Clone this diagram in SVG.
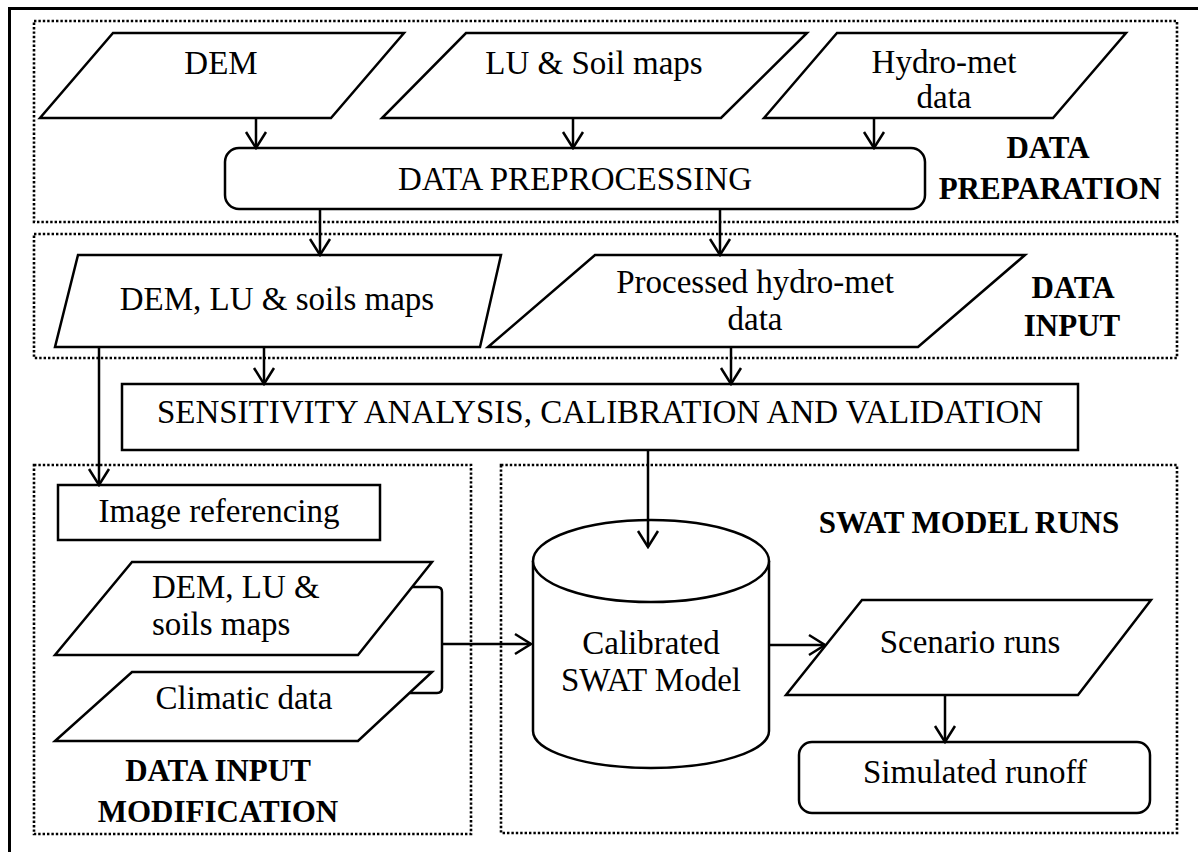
<svg xmlns="http://www.w3.org/2000/svg" width="1198" height="852" viewBox="0 0 1198 852">
<style>
.shape{fill:#fff;stroke:#000;stroke-width:2.5;stroke-linejoin:miter}
.grp{fill:none;stroke:#000;stroke-width:2.6;stroke-dasharray:2.4 2}
.conn path{fill:none;stroke:#000;stroke-width:2.5}
.t{font-family:"Liberation Serif","Times New Roman",serif;font-size:33px;fill:#000;text-anchor:middle}
.s{text-anchor:start}
.b{font-weight:bold;font-size:31px}
</style>
<defs>
<marker id="arr" markerUnits="userSpaceOnUse" viewBox="0 0 20 24" refX="18" refY="12" markerWidth="20" markerHeight="24" orient="auto">
<path d="M2,2 L18,12 L2,22" fill="none" stroke="#000" stroke-width="2.5"/>
</marker>
</defs>
<rect x="0" y="0" width="1198" height="852" fill="#fff"/>
<rect x="9.5" y="8.5" width="1200" height="860" fill="none" stroke="#000" stroke-width="3"/>

<g id="groups">
<rect class="grp" x="34" y="21" width="1143" height="201"/>
<rect class="grp" x="34" y="234" width="1143" height="124"/>
<rect class="grp" x="34" y="465" width="437" height="369"/>
<rect class="grp" x="501" y="465" width="676" height="368"/>
<text class="t b" x="1048" y="158">DATA</text>
<text class="t b" x="1050" y="199">PREPARATION</text>
<text class="t b" x="1073" y="298">DATA</text>
<text class="t b" x="1072" y="336">INPUT</text>
<text class="t b" x="218" y="781">DATA INPUT</text>
<text class="t b" x="218" y="822">MODIFICATION</text>
<text class="t b" x="969" y="533">SWAT MODEL RUNS</text>
</g>

<g id="dem">
<polygon class="shape" points="113,33 404,33 331,118 40,118"/>
<text class="t" x="221" y="74">DEM</text>
</g>
<g id="lu-soil">
<polygon class="shape" points="466,33 807,33 721,118 382,118"/>
<text class="t" x="594" y="74">LU &amp; Soil maps</text>
</g>
<g id="hydromet">
<polygon class="shape" points="837,33 1126,33 1053,118 764,118"/>
<text class="t" x="944" y="73">Hydro-met</text>
<text class="t" x="944" y="108">data</text>
</g>
<g id="preprocessing">
<rect class="shape" x="225" y="148" width="700" height="61" rx="14"/>
<text class="t" x="575" y="190">DATA PREPROCESSING</text>
</g>
<g id="dem-lu-soils-input">
<polygon class="shape" points="78,255 501,255 480,347 55,347"/>
<text class="t" x="277" y="310">DEM, LU &amp; soils maps</text>
</g>
<g id="processed-hydromet">
<polygon class="shape" points="595,255 1025,255 918,347 488,347"/>
<text class="t" x="755" y="293">Processed hydro-met</text>
<text class="t" x="755" y="330">data</text>
</g>
<g id="sensitivity">
<rect class="shape" x="122" y="384" width="956" height="66"/>
<text class="t" x="600" y="423">SENSITIVITY ANALYSIS, CALIBRATION AND VALIDATION</text>
</g>
<g id="image-referencing">
<rect class="shape" x="58" y="485" width="322" height="55"/>
<text class="t" x="219" y="522">Image referencing</text>
</g>
<g id="dem-lu-soils-mod">
<polygon class="shape" points="132,562 432,562 358,655 55,655"/>
<text class="t s" x="152" y="598">DEM, LU &amp;</text>
<text class="t s" x="152" y="635">soils maps</text>
</g>
<g id="climatic">
<polygon class="shape" points="132,672 432,672 358,741 55,741"/>
<text class="t" x="244" y="709">Climatic data</text>
</g>
<g id="calibrated-swat">
<path class="shape" d="M533,561 A118,41 0 0,1 769,561 L769,731 A118,37 0 0,1 533,731 Z"/>
<path class="shape" fill="none" d="M533,561 A118,41 0 0,0 769,561"/>
<text class="t" x="651" y="654">Calibrated</text>
<text class="t" x="651" y="691">SWAT Model</text>
</g>
<g id="scenario">
<polygon class="shape" points="862,600 1151,600 1078,695 786,695"/>
<text class="t" x="970" y="653">Scenario runs</text>
</g>
<g id="simulated">
<rect class="shape" x="799" y="742" width="351" height="71" rx="13"/>
<text class="t" x="975" y="783">Simulated runoff</text>
</g>

<g id="connectors" class="conn">
<path d="M256,118 V148" marker-end="url(#arr)"/>
<path d="M573,118 V148" marker-end="url(#arr)"/>
<path d="M874,118 V148" marker-end="url(#arr)"/>
<path d="M320,209 V255" marker-end="url(#arr)"/>
<path d="M720,209 V255" marker-end="url(#arr)"/>
<path d="M264,347 V384" marker-end="url(#arr)"/>
<path d="M731,347 V384" marker-end="url(#arr)"/>
<path d="M99,347 V485" marker-end="url(#arr)"/>
<path d="M648,450 V547" marker-end="url(#arr)"/>
<path d="M412,587 H437 Q442,587 442,592 V688 Q442,693 437,693 H410"/>
<path d="M442,644 H531" marker-end="url(#arr)"/>
<path d="M769,645 H825" marker-end="url(#arr)"/>
<path d="M945,695 V742" marker-end="url(#arr)"/>
</g>
</svg>
